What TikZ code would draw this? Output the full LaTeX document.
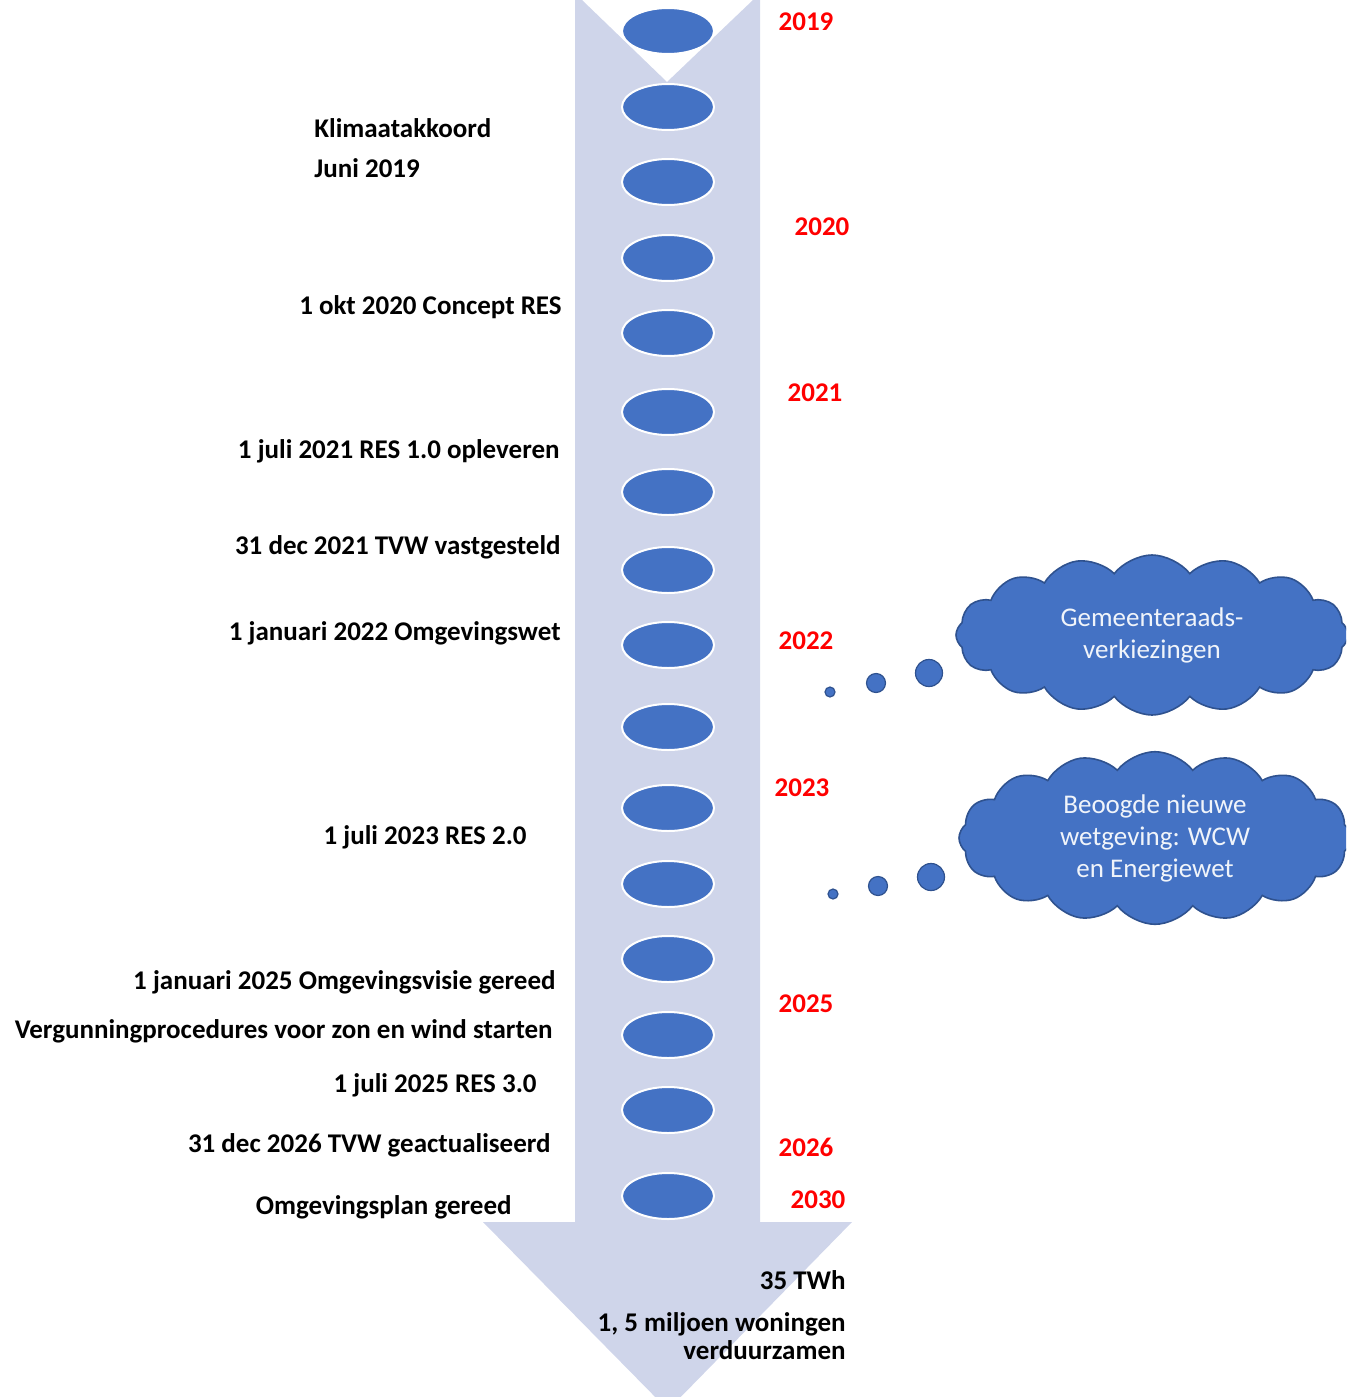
\documentclass[tikz,border=0pt]{standalone}
\usepackage{fontspec}
\setmainfont{Carlito}
\usepackage{tikz}
\usetikzlibrary{positioning,shapes.geometric,shapes.symbols}
\definecolor{arrowfill}{HTML}{CFD5EA}
\definecolor{dotblue}{HTML}{4472C4}
\definecolor{dotedge}{HTML}{2F528F}
\definecolor{yearred}{HTML}{FF0000}

\begin{document}
\begin{tikzpicture}[x=0.5pt,y=-0.5pt,font=\fontsize{13.5}{16}\selectfont]
				\tikzstyle{milestone}=[ellipse,fill=dotblue,draw=white,line width=1pt,
					minimum width=46pt,minimum height=23pt,inner sep=0pt]
				\tikzstyle{year}=[text=yearred,font=\fontsize{13.5}{16}\selectfont\bfseries,anchor=mid,inner sep=0pt,yshift=-2pt]
				\tikzstyle{event}=[font=\fontsize{13.5}{16}\selectfont\bfseries,anchor=mid east,inner sep=0pt,yshift=-2pt]
				\tikzstyle{thought}=[cloud,cloud puffs=16,cloud puff arc=105,aspect=2.4,
					fill=dotblue,draw=dotedge,line width=0.8pt,text=white!92!dotblue,align=center,
					font=\fontsize{13.5}{16}\selectfont,minimum width=196pt,minimum height=80pt]
				\tikzstyle{bubble}=[circle,fill=dotblue,draw=dotedge,line width=0.6pt,inner sep=0pt]
				\clip (0,0) rectangle (1346,1397);
				
				% timeline arrow
				\fill[arrowfill] (575,0) -- (582,0) -- (667,82) -- (753,0) -- (760,0)
				-- (760,1222) -- (852,1222) -- (668,1410) -- (483,1222) -- (575,1222) -- cycle;
				
				% milestones
				\foreach \y [count=\i] in {31,107,182,258,333,412,492,570,645,727,808,884,959,1035,1110,1196}
				\node[milestone] (m\i) at (668,\y) {};
				
				% years
				\node[year] (y2019) at (806,22) {2019};
				\node[year] (y2020) at (822,227) {2020};
				\node[year] (y2021) at (815,393) {2021};
				\node[year] (y2022) at (806,641) {2022};
				\node[year] (y2023) at (802,788) {2023};
				\node[year] (y2025) at (806,1004) {2025};
				\node[year] (y2026) at (806,1148) {2026};
				\node[year] (y2030) at (818,1200) {2030};
				
				% events
				\node[event,anchor=mid west] (klimaat) at (314,129) {Klimaatakkoord};
				\node[event,anchor=mid west] (juni) at (314,169) {Juni 2019};
				\node[event] (concept) at (562,306) {1 okt 2020 Concept RES};
				\node[event] (res1) at (560,450) {1 juli 2021 RES 1.0 opleveren};
				\node[event] (tvw) at (561,546) {31 dec 2021 TVW vastgesteld};
				\node[event] (ow) at (561,632) {1 januari 2022 Omgevingswet};
				\node[event] (res2) at (527,836) {1 juli 2023 RES 2.0};
				\node[event] (visie) at (556,981) {1 januari 2025 Omgevingsvisie gereed};
				\node[event] (vergun) at (553,1030) {Vergunningprocedures voor zon en wind starten};
				\node[event] (res3) at (537,1084) {1 juli 2025 RES 3.0};
				\node[event] (tvw2) at (551,1144) {31 dec 2026 TVW geactualiseerd};
				\node[event] (plan) at (512,1206) {Omgevingsplan gereed};
				
				% goals 2030
				\node[event] (twh) at (846,1281) {35 TWh};
				\node[event,align=right,anchor=north east,yshift=0pt,
					font=\fontsize{13.5}{14}\selectfont\bfseries] (woning) at (846,1308) {1, 5 miljoen woningen\\verduurzamen};
				
				% thought clouds
				\node[thought] (wolk1) at (1152,635) {Gemeenteraads-\\verkiezingen};
				\node[bubble,minimum size=5pt] (b11) at (830,692) {};
				\node[bubble,minimum size=9.5pt] (b12) at (876,683) {};
				\node[bubble,minimum size=13.5pt] (b13) at (929,673) {};
				
				\node[thought] (wolk2) at (1155,838) {Beoogde nieuwe\\wetgeving: WCW\\en Energiewet};
				\node[bubble,minimum size=5pt] (b21) at (833,894) {};
				\node[bubble,minimum size=9.5pt] (b22) at (878,886) {};
				\node[bubble,minimum size=13.5pt] (b23) at (931,877) {};
\end{tikzpicture}
\end{document}
